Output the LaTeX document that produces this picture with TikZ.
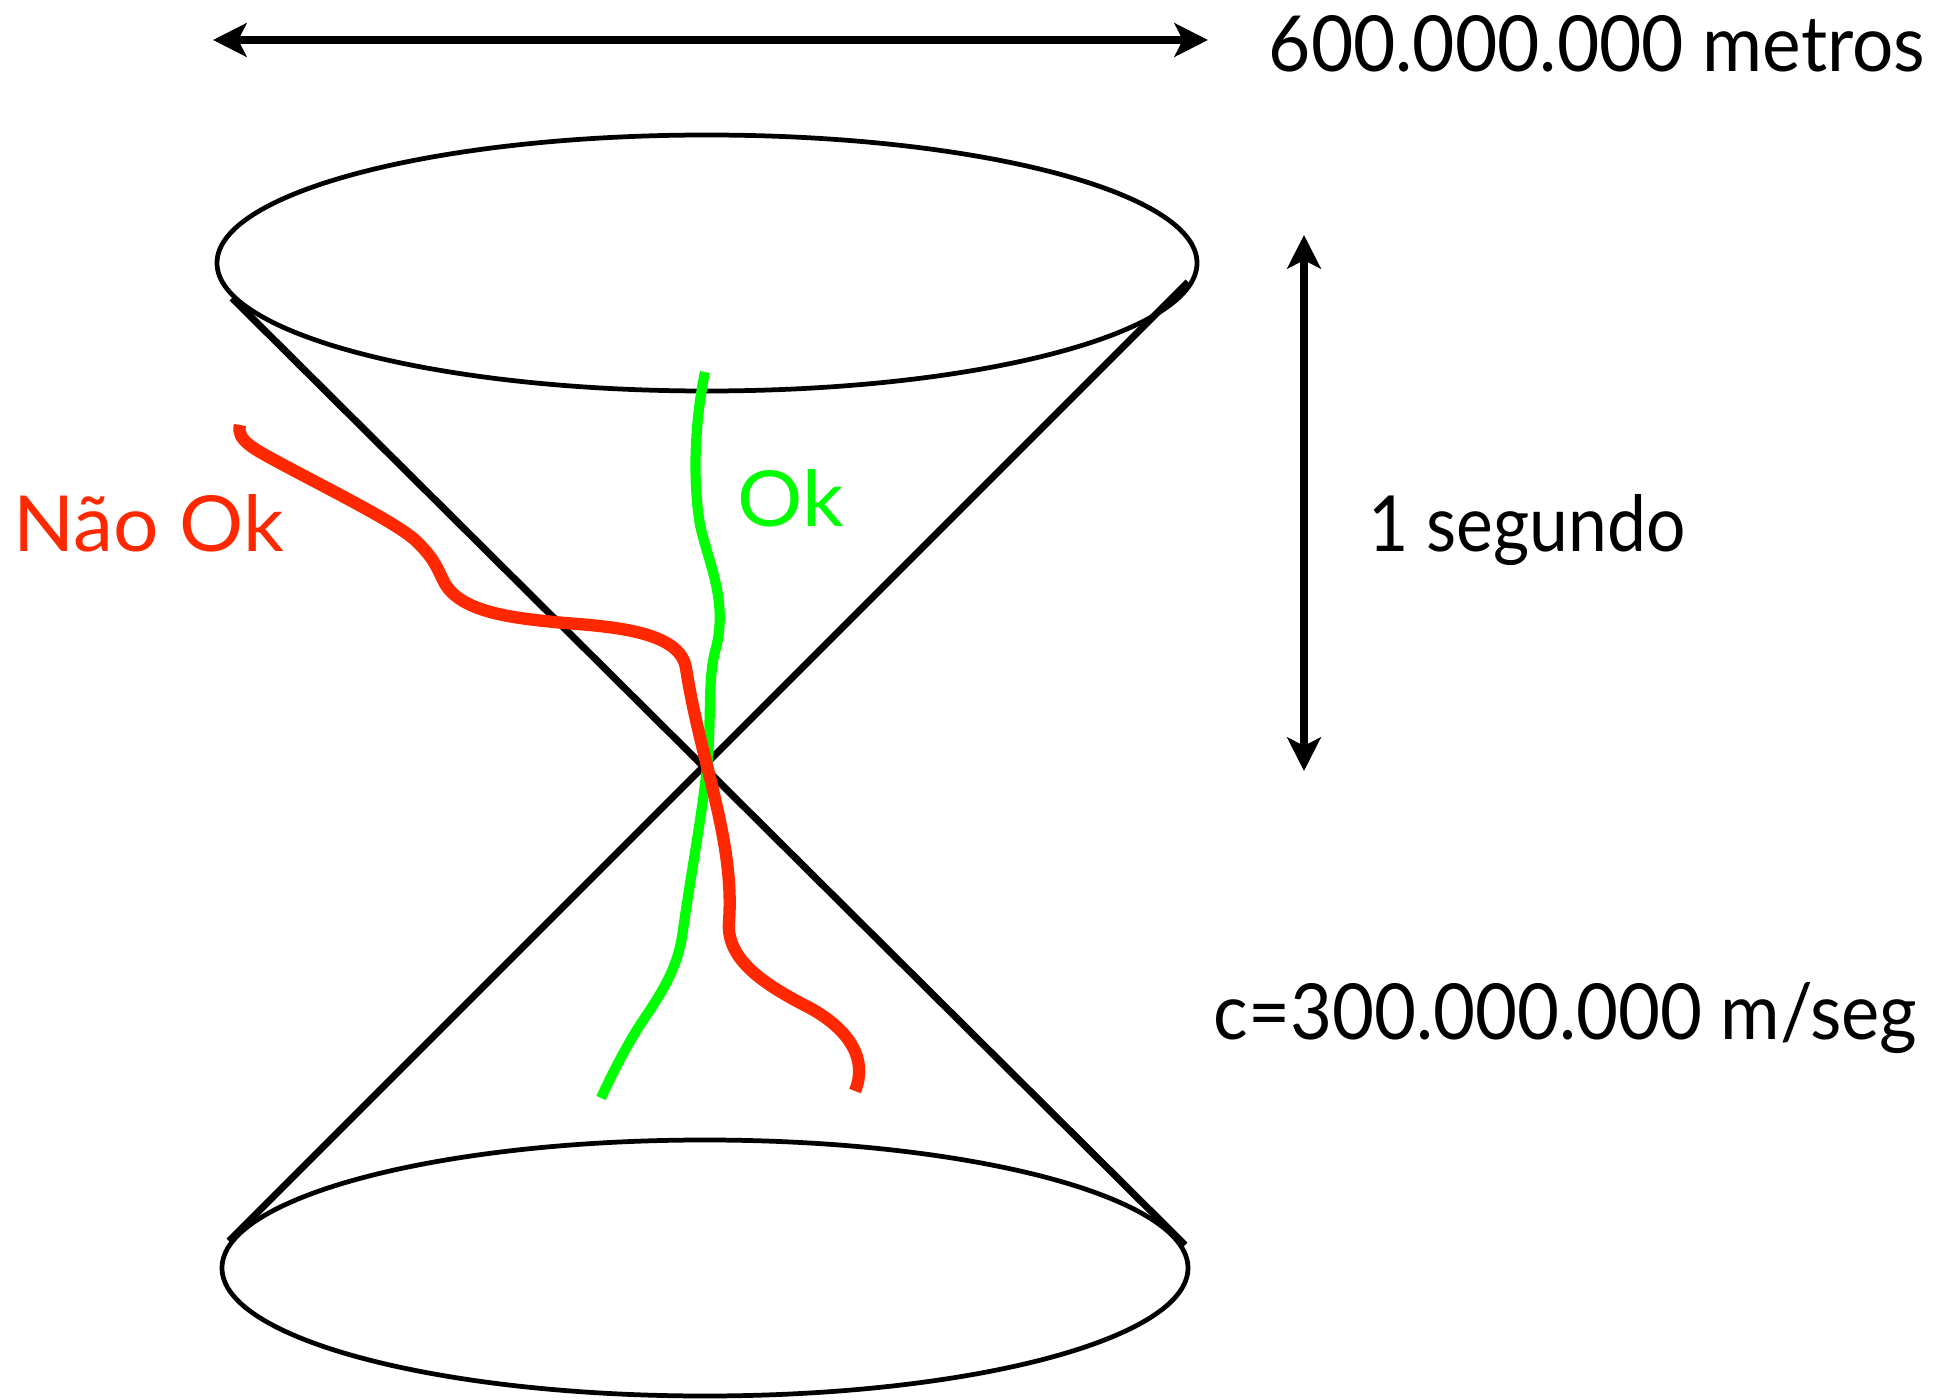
\documentclass[tikz,border=0pt]{standalone}
\usepackage{fontspec}
\setmainfont{Lato}
\usetikzlibrary{arrows.meta}
\definecolor{okred}{RGB}{255,40,0}
\definecolor{okgreen}{RGB}{0,255,0}
\newcommand\fitto[2]{\resizebox{#1}{\height}{#2}}
\tikzset{
  dimarrow/.style={line width=2.2pt,{Stealth[length=9.5pt,width=9.5pt,inset=2.3pt]}-{Stealth[length=9.5pt,width=9.5pt,inset=2.3pt]}},
  rim/.style={line width=1.35pt},
  coneline/.style={line width=2pt},
  lbl/.style={anchor=base west,inner sep=0pt,font=\fontsize{22}{26}\selectfont},
  okpath/.style={okgreen,line width=2.9pt,line cap=butt},
  badpath/.style={okred,line width=3.5pt,line cap=butt}
}
\begin{document}
\begin{tikzpicture}[x=0.01cm,y=-0.01cm]
\useasboundingbox (0,0) rectangle (1935,1400);
% dimension arrows
\coordinate (hl) at (213,40);
\coordinate (hr) at (1208,40);
\coordinate (vt) at (1304,235);
\coordinate (vb) at (1304,771);
\draw[dimarrow] (hl) -- (hr);
\draw[dimarrow] (vt) -- (vb);
% ellipses
\draw[rim] (707,263) ellipse [x radius=490, y radius=128];
\draw[rim] (705,1268) ellipse [x radius=483, y radius=128];
% cone lines
\coordinate (a1) at (232,298);
\coordinate (a2) at (1185,1245);
\coordinate (b1) at (1188,282);
\coordinate (b2) at (229,1241);
\draw[coneline] (a1) -- (a2);
\draw[coneline] (b1) -- (b2);
% world lines
\draw[okpath] (705,372) .. controls (697,410) and (691,470) .. (700,525)
  .. controls (708,562) and (728,600) .. (716,648)
  .. controls (707,678) and (712,720) .. (707,767)
  .. controls (702,815) and (690,880) .. (683,930)
  .. controls (678,970) and (660,995) .. (640,1025)
  .. controls (627,1045) and (612,1074) .. (601,1098);
\draw[badpath] (240,425) .. controls (236,440) and (254,449) .. (278,462)
  .. controls (330,490) and (395,522) .. (415,540)
  .. controls (432,556) and (436,565) .. (443,580)
  .. controls (458,612) and (510,618) .. (565,623)
  .. controls (620,627) and (680,633) .. (686,668)
  .. controls (700,760) and (735,840) .. (729,922)
  .. controls (726,960) and (765,985) .. (810,1008)
  .. controls (850,1030) and (868,1060) .. (855,1091);
% labels
\node[lbl] (w) at (1268,72) {\fitto{6.56cm}{600.000.000 metros}};
\node[lbl] (t) at (1368,552) {\fitto{3.17cm}{1 segundo}};
\node[lbl] (c) at (1213,1039) {\fitto{7.03cm}{c=300.000.000 m/seg}};
\node[lbl,text=okred] (no) at (13,552) {\fitto{2.70cm}{Não Ok}};
\node[lbl,text=okgreen] (ok) at (737,527) {\fitto{1.06cm}{Ok}};
\end{tikzpicture}
\end{document}
